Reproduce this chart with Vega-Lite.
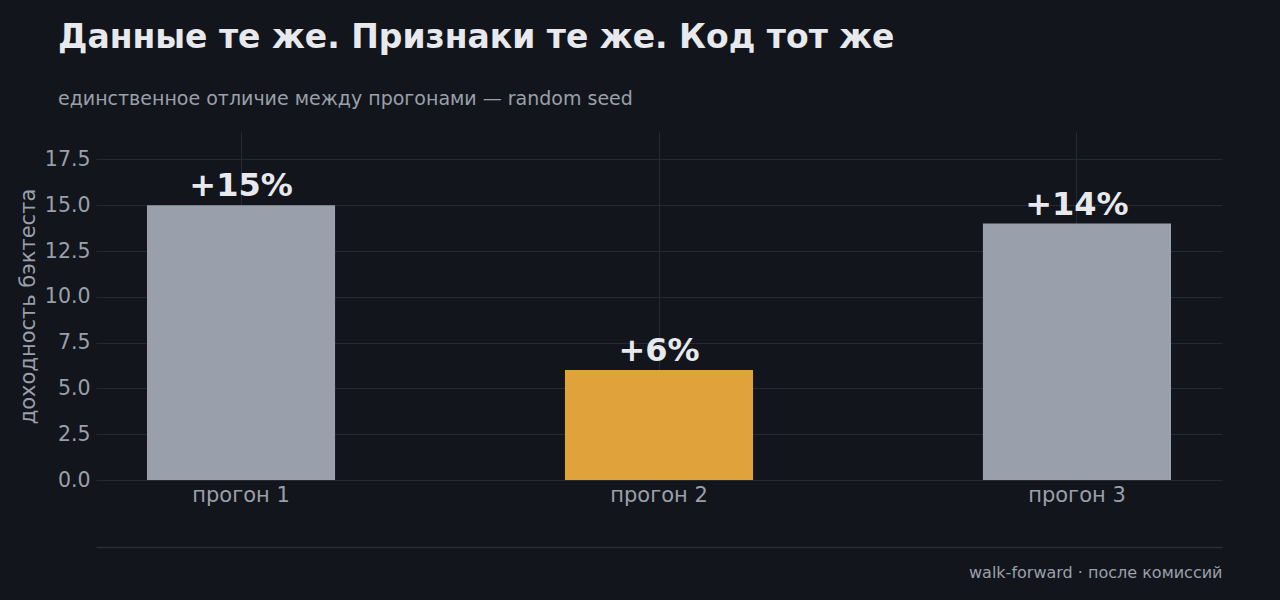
{
  "$schema": "https://vega.github.io/schema/vega-lite/v6.json",
  "width": 1126,
  "height": 348,
  "autosize": {"type": "none"},
  "padding": {"left": 96, "top": 132, "right": 58, "bottom": 120},
  "background": "#12151c",
  "title": {
    "text": "Данные те же. Признаки те же. Код тот же",
    "subtitle": "единственное отличие между прогонами — random seed",
    "anchor": "start",
    "frame": "group",
    "dx": -38,
    "offset": 23,
    "fontSize": 33,
    "fontWeight": "bold",
    "color": "#e8e9ec",
    "subtitleFontSize": 19,
    "subtitleColor": "#9aa0aa",
    "subtitlePadding": 35,
    "font": "DejaVu Sans",
    "subtitleFont": "DejaVu Sans"
  },
  "data": {
    "values": [
      {"run": "прогон 1", "ret": 15, "label": "+15%", "pick": "no"},
      {"run": "прогон 2", "ret": 6, "label": "+6%", "pick": "yes"},
      {"run": "прогон 3", "ret": 14, "label": "+14%", "pick": "no"}
    ]
  },
  "layer": [
    {
      "mark": {"type": "bar"},
      "encoding": {
        "x": {
          "field": "run",
          "type": "nominal",
          "sort": null,
          "scale": {"paddingInner": 0.55, "paddingOuter": 0.122},
          "axis": {
            "title": null,
            "labelAngle": 0,
            "labelFontSize": 21,
            "labelColor": "#9aa0aa",
            "labelPadding": 4,
            "domain": false,
            "ticks": false,
            "grid": true,
            "gridColor": "#252933"
          }
        },
        "y": {
          "field": "ret",
          "type": "quantitative",
          "scale": {"domain": [0, 19], "nice": false},
          "axis": {
            "title": "доходность бэктеста",
            "titleFontSize": 21,
            "titleFontWeight": "normal",
            "titleColor": "#9aa0aa",
            "titlePadding": 6,
            "values": [0, 2.5, 5, 7.5, 10, 12.5, 15, 17.5],
            "format": ".1f",
            "labelFontSize": 20.5,
            "labelColor": "#9aa0aa",
            "labelPadding": 6,
            "domain": false,
            "ticks": false,
            "gridColor": "#252933"
          }
        },
        "color": {
          "field": "pick",
          "type": "nominal",
          "scale": {"domain": ["no", "yes"], "range": ["#9aa0ab", "#e0a33c"]},
          "legend": null
        }
      }
    },
    {
      "mark": {
        "type": "text",
        "baseline": "alphabetic",
        "dy": -9,
        "fontSize": 32,
        "fontWeight": "bold",
        "color": "#e8e9ec"
      },
      "encoding": {
        "x": {
          "field": "run",
          "type": "nominal",
          "sort": null,
          "axis": {
            "orient": "bottom",
            "offset": 67,
            "labels": false,
            "ticks": false,
            "grid": false,
            "domain": true,
            "domainColor": "#2a2e37",
            "domainWidth": 1.5,
            "title": "walk-forward · после комиссий",
            "titleAnchor": "end",
            "titleAlign": "right",
            "titleBaseline": "alphabetic",
            "titlePadding": 30,
            "titleFontSize": 16,
            "titleFontWeight": "normal",
            "titleColor": "#9aa0aa"
          }
        },
        "y": {"field": "ret", "type": "quantitative"},
        "text": {"field": "label"}
      }
    }
  ],
  "resolve": {"axis": {"x": "independent"}},
  "config": {
    "font": "DejaVu Sans",
    "view": {"stroke": null},
    "axis": {"labelFont": "DejaVu Sans", "titleFont": "DejaVu Sans"}
  }
}
